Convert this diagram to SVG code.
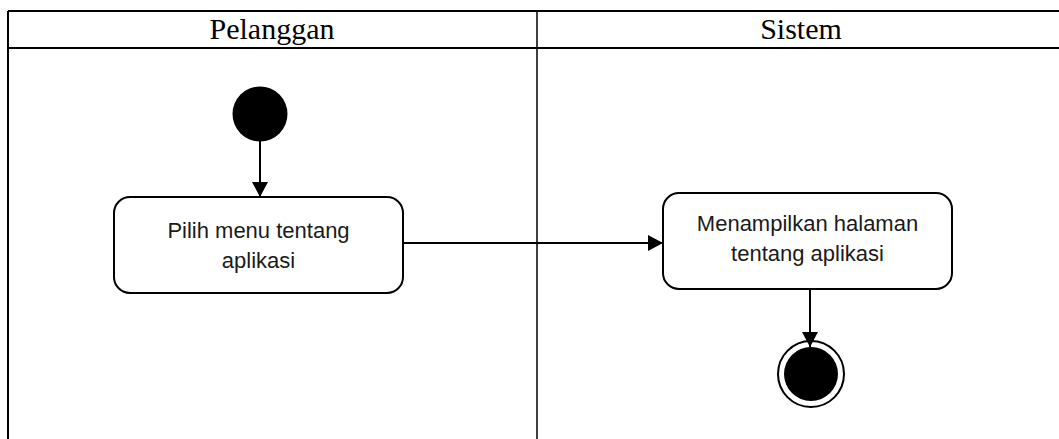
<svg xmlns="http://www.w3.org/2000/svg" width="1059" height="439" viewBox="0 0 1059 439">
<style>
.lane{stroke:#000;stroke-width:1.5;fill:none}
.title{font-family:"Liberation Serif","Times New Roman",serif;font-size:30px;fill:#000;text-anchor:middle}
.act{fill:#fff;stroke:#000;stroke-width:2}
.lbl{font-family:"Liberation Sans",Arial,sans-serif;font-size:22px;fill:#1a1a1a;text-anchor:middle}
.edge{stroke:#000;stroke-width:2;fill:none}
</style>
<defs>
<marker id="arr" markerWidth="16" markerHeight="16" refX="15" refY="8" orient="auto" markerUnits="userSpaceOnUse">
<path d="M0,0 L15,8 L0,16 Z" fill="#000"/>
</marker>
</defs>
<rect width="1059" height="439" fill="#fff"/>
<g id="lanes">
<line class="lane" x1="8" y1="11" x2="1059" y2="11" style="stroke-width:2"/>
<line class="lane" x1="8" y1="48" x2="1059" y2="48" style="stroke-width:2"/>
<line class="lane" x1="8" y1="11" x2="8" y2="439" style="stroke-width:2"/>
<line class="lane" x1="537" y1="11" x2="537" y2="439"/>
<text class="title" x="272" y="39">Pelanggan</text>
<text class="title" x="801" y="39">Sistem</text>
</g>
<g id="start">
<circle cx="260" cy="114" r="27.5" fill="#000"/>
</g>
<g id="act1">
<rect class="act" x="114" y="197" width="289" height="96" rx="16"/>
<text class="lbl" x="258.5" y="238">Pilih menu tentang</text>
<text class="lbl" x="258.5" y="268">aplikasi</text>
</g>
<g id="act2">
<rect class="act" x="663" y="193" width="289" height="96" rx="16"/>
<text class="lbl" x="807.5" y="231">Menampilkan halaman</text>
<text class="lbl" x="807.5" y="261">tentang aplikasi</text>
</g>
<g id="end">
<circle cx="811" cy="374" r="33" fill="#fff" stroke="#000" stroke-width="2"/>
<circle cx="811" cy="374" r="27" fill="#000"/>
</g>
<g id="connectors">
<line class="edge" x1="260" y1="141" x2="260" y2="197" marker-end="url(#arr)"/>
<line class="edge" x1="403" y1="243" x2="663" y2="243" marker-end="url(#arr)"/>
<line class="edge" x1="810" y1="289" x2="810" y2="347" marker-end="url(#arr)"/>
</g>
</svg>
